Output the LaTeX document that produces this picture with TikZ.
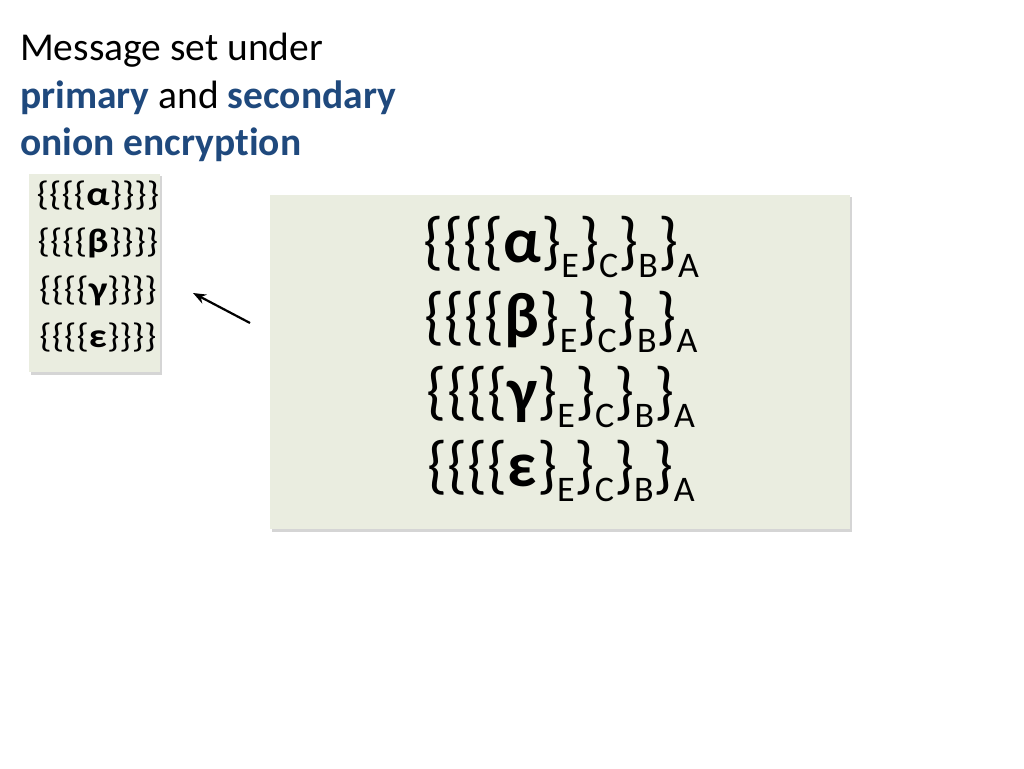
\documentclass[tikz,border=0pt]{standalone}
\usepackage{fontspec}
\setmainfont{Carlito}[Ligatures=NoCommon]
\usetikzlibrary{arrows.meta}
\definecolor{boxfill}{RGB}{234,237,224}
\definecolor{titleblue}{RGB}{31,73,125}
\newcommand{\sbt}[1]{\raisebox{-15pt}{\fontsize{36}{36}\selectfont #1}}
\newcommand{\smallmsg}[1]{\scalebox{1.16}[1]{\{\{\{\{\textbf{#1}\}\}\}\}}}
\tikzset{
  msgbox/.style={fill=boxfill, draw=none},
  shadowbox/.style={fill=black!30, draw=none, opacity=0.55},
  titletext/.style={anchor=base west, inner sep=0pt, font=\fontsize{39.5}{46}\selectfont},
  smalltext/.style={anchor=center, inner sep=0pt, font=\fontsize{34}{34}\selectfont},
  bigtext/.style={anchor=base, inner sep=0pt, font=\fontsize{64}{64}\selectfont},
  pointer/.style={-{Stealth[length=13pt,width=10pt]}, line width=2.2pt, black}
}
\begin{document}
\begin{tikzpicture}[x=1pt,y=-1pt]
\useasboundingbox (0,0) rectangle (1024,768);
% title
\node[titletext] (t1) at (20,60) {Message set under};
\node[titletext] (t2) at (20,108) {\textbf{\color{titleblue}primary} and \textbf{\color{titleblue}secondary}};
\node[titletext] (t3) at (20,155) {\textbf{\color{titleblue}onion encryption}};
% small box
\fill[shadowbox] (31,176) rectangle (162,375);
\fill[msgbox] (29,174) rectangle (160,372);
\node[smalltext] (s1) at (98,196) {\smallmsg{α}};
\node[smalltext] (s2) at (98,243) {\smallmsg{β}};
\node[smalltext] (s3) at (98,291) {\smallmsg{γ}};
\node[smalltext] (s4) at (98,338) {\smallmsg{ε}};
% big box
\fill[shadowbox] (272,197) rectangle (852,532);
\fill[msgbox] (270,195) rectangle (850,529);
\node[bigtext] (b1) at (561,262) {\{\{\{\{\textbf{α}\}\sbt{E}\}\sbt{C}\}\sbt{B}\}\sbt{A}};
\node[bigtext] (b2) at (561,337) {\{\{\{\{\textbf{β}\}\sbt{E}\}\sbt{C}\}\sbt{B}\}\sbt{A}};
\node[bigtext] (b3) at (561,412) {\{\{\{\{\textbf{γ}\}\sbt{E}\}\sbt{C}\}\sbt{B}\}\sbt{A}};
\node[bigtext] (b4) at (561,486) {\{\{\{\{\textbf{ε}\}\sbt{E}\}\sbt{C}\}\sbt{B}\}\sbt{A}};
% arrow
\coordinate (atail) at (250,323);
\coordinate (ahead) at (193,293);
\draw[pointer] (atail) -- (ahead);
\end{tikzpicture}
\end{document}
